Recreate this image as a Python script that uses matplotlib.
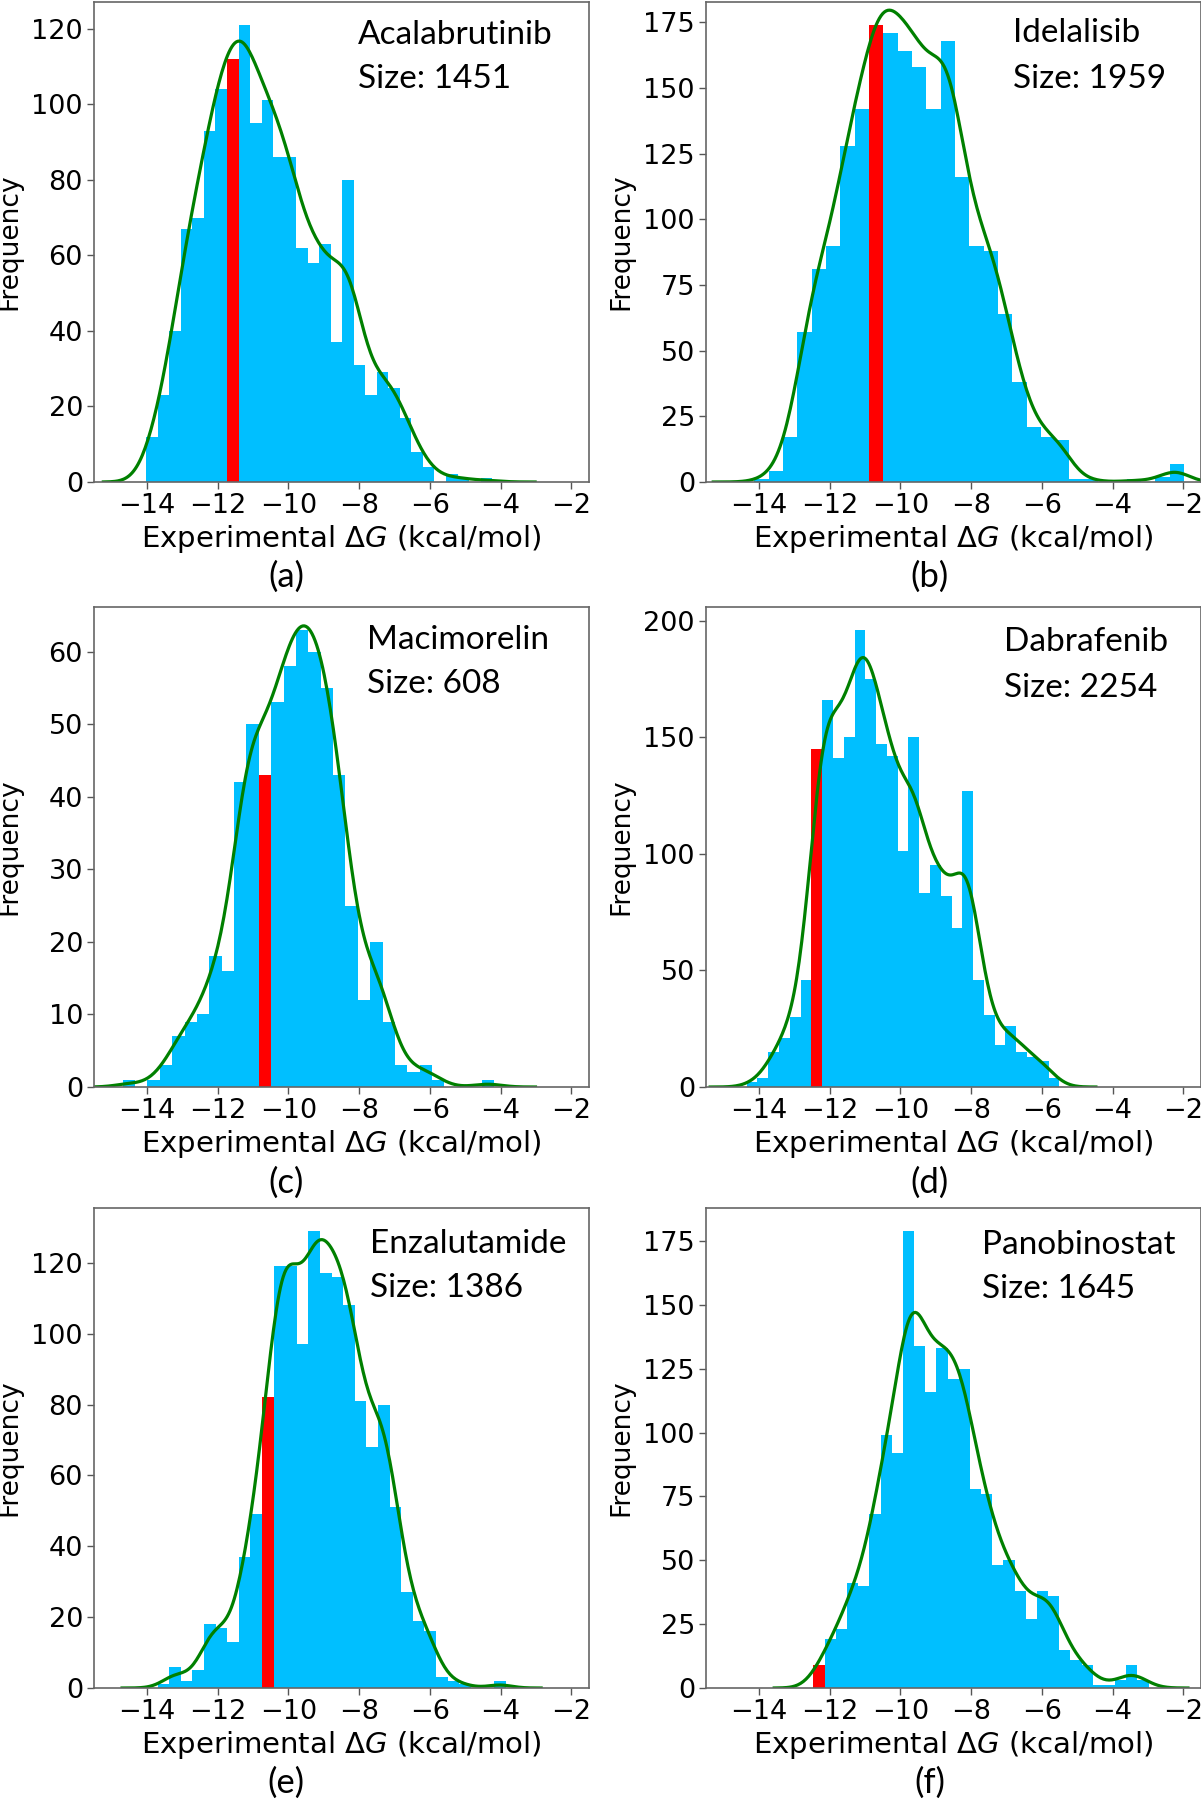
import matplotlib
matplotlib.use('Agg')
import matplotlib.pyplot as plt
import numpy as np

plt.rcParams['font.family'] = 'DejaVu Sans'
plt.rcParams['mathtext.fontset'] = 'dejavusans'

# ---- data ----
drugs = ['Acalabrutinib', 'Idelalisib', 'Macimorelin', 'Dabrafenib', 'Enzalutamide', 'Panobinostat']
sizes = [1451, 1959, 608, 2254, 1386, 1645]
tags = ['(a)', '(b)', '(c)', '(d)', '(e)', '(f)']

# histogram bins (kcal/mol): left edge of first bin and bin width
bin_start = [-14.02, -14.13, -14.69, -14.35, -13.70, -12.46]
bin_width = [0.326, 0.405, 0.350, 0.305, 0.328, 0.316]
# bin holding the drug's own value (drawn red)
red_bin = [7, 8, 11, 6, 9, 0]

counts_a = [12, 23, 40, 67, 70, 93, 104, 112, 121, 95, 101, 86, 86, 62, 58,
            63, 37, 80, 31, 23, 29, 25, 17, 8, 4, 0, 2, 1, 0, 1]
counts_b = [1, 4, 17, 57, 81, 90, 128, 142, 174, 171, 164, 158, 142, 168, 116,
            90, 88, 64, 38, 21, 17, 16, 1, 1, 0, 0, 1, 0, 2, 7]
counts_c = [1, 0, 1, 3, 7, 9, 10, 18, 16, 42, 50, 43, 53, 58, 63,
            60, 55, 43, 25, 12, 20, 9, 3, 2, 3, 1, 0, 0, 0, 1]
counts_d = [2, 4, 15, 21, 30, 46, 145, 166, 141, 150, 196, 175, 147, 142, 101,
            150, 83, 95, 82, 68, 127, 46, 31, 18, 26, 15, 13, 11, 4]
counts_e = [1, 6, 2, 5, 18, 17, 13, 37, 49, 82, 119, 119, 97, 129, 117,
            116, 108, 81, 68, 80, 51, 27, 19, 16, 3, 2, 1, 0, 0, 2]
counts_f = [9, 19, 23, 41, 40, 68, 99, 92, 179, 134, 116, 133, 121, 125, 78,
            76, 48, 50, 38, 27, 38, 36, 15, 11, 9, 1, 1, 3, 9, 3]
all_counts = [counts_a, counts_b, counts_c, counts_d, counts_e, counts_f]

# text position inside each panel (axes fraction): x, baseline of name, baseline of size
label_pos = [(0.533, 0.912, 0.821), (0.621, 0.917, 0.820), (0.552, 0.912, 0.821),
             (0.602, 0.908, 0.813), (0.558, 0.907, 0.815), (0.558, 0.904, 0.812)]

W, H = 1201, 1800
fig = plt.figure(figsize=(W / 100, H / 100), dpi=100)

col_left = [94, 706]
ax_w = 495
row_top = [2, 607, 1208]
ax_h = 480
tag_x = [286, 930]
tag_y = [577, 1183, 1783]


def kde_counts(centers, counts, width):
    # gaussian kde (scott bandwidth) of the binned values, in histogram counts
    w = np.asarray(counts, float)
    n = w.sum()
    mu = np.sum(w * centers) / n
    sd = np.sqrt(np.sum(w * (centers - mu) ** 2) / (n - 1))
    bw = sd * n ** (-0.2)
    lo = centers[w > 0].min() - width / 2 - 3 * bw
    hi = centers[w > 0].max() + width / 2 + 3 * bw
    xs = np.linspace(lo, hi, 300)
    z = (xs[:, None] - centers[None, :]) / bw
    dens = (w[None, :] * np.exp(-0.5 * z ** 2)).sum(axis=1) / (bw * np.sqrt(2 * np.pi))
    return xs, dens * width * 1.07


for i in range(6):
    r, c = divmod(i, 2)
    left = col_left[c] / W
    bottom = 1 - (row_top[r] + ax_h) / H
    ax = fig.add_axes([left, bottom, ax_w / W, ax_h / H])

    cnt = np.array(all_counts[i])
    edges = bin_start[i] + bin_width[i] * np.arange(len(cnt))
    colors = ['#00BFFF'] * len(cnt)
    colors[red_bin[i]] = 'red'
    ax.bar(edges, cnt, width=bin_width[i], align='edge', color=colors, linewidth=0)

    centers = edges + bin_width[i] / 2
    xs, ys = kde_counts(centers, cnt, bin_width[i])
    ax.plot(xs, ys, color='green', lw=2.3)

    ax.set_xlim(-15.5, -1.5)
    ax.set_ylim(0, cnt.max() * 1.05)
    ax.set_xticks(np.arange(-14, -1, 2))
    ax.tick_params(labelsize=19.5, color='#555555', length=5, width=1, pad=3)
    for s in ax.spines.values():
        s.set_color('#666666')
        s.set_linewidth(1.2)
    ax.set_xlabel('Experimental $\\Delta G$ (kcal/mol)', fontsize=21, labelpad=3)
    ax.set_ylabel('Frequency', fontsize=19)
    ax.yaxis.set_label_coords(-0.144, 0.5)

    px, py1, py2 = label_pos[i]
    ax.text(px, py1, drugs[i], transform=ax.transAxes, family='Lato',
            fontsize=24, va='baseline', ha='left')
    ax.text(px, py2, 'Size: %d' % sizes[i], transform=ax.transAxes, family='Lato',
            fontsize=24, va='baseline', ha='left')

    fig.text(tag_x[c] / W, 1 - tag_y[r] / H, tags[i], family='Lato', fontsize=25,
             ha='center', va='center')

fig.savefig('out.png', dpi=100)
